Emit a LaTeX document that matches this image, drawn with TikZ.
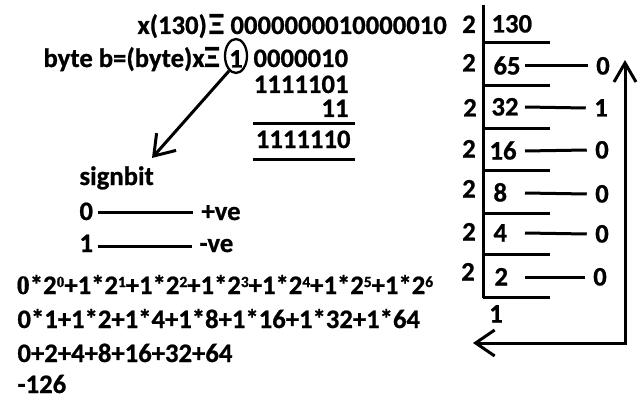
\documentclass[tikz,border=0pt]{standalone}
\usepackage{fontspec}
\setmainfont{Carlito}[BoldFeatures={FakeBold=0.8}]
\newfontfamily\serifz{Liberation Serif}[BoldFeatures={FakeBold=0.5}]
\usetikzlibrary{arrows.meta,shapes.geometric}
\newcommand{\supx}[1]{\raisebox{7pt}{\fontsize{15.5}{15}\selectfont #1}}
\newcommand{\xii}{\scalebox{1.15}{Ξ}}
\begin{document}
\begin{tikzpicture}[x=1pt,y=-1pt,line width=3pt,
  lbl/.style={inner sep=0pt,text height=17pt,text depth=0pt,font=\fontsize{26.67}{30}\selectfont\bfseries},
  lw/.style={lbl,anchor=base west},
  le/.style={lbl,anchor=base east},
  barb/.style={-{Straight Barb[length=19pt,width=26pt,line width=3pt]}},
  barbs/.style={{Straight Barb[length=19pt,width=26pt,line width=3pt]}-{Straight Barb[length=19pt,width=22pt,line width=3pt]}}]
\useasboundingbox (0,0) rectangle (642,401);
% top left binary
\node[lw] (xl) at (136,34) {x(130)\hspace{2pt}\xii};
\node[lw] (xb) at (229,34) {0000000010000010};
\node[lw] (bl) at (42,67) {byte b=(byte)x\xii};
\node[lbl] (one) at (236,59) {1};
\node[draw,ellipse,minimum width=22pt,minimum height=34pt,inner sep=0pt,line width=2.3pt] (circ) at (236,56) {};
\node[lw] (bb) at (252,67) {0000010};
\node[le] (inv) at (350,93) {1111101};
\node[le] (add) at (350,117) {11};
\draw (253,124) -- (355,124);
\node[le] (res) at (352,148) {1111110};
\draw (253,159) -- (355,159);
\coordinate (tip) at (152,158);
\draw[barb] (circ.245) -- (tip);
% signbit
\node[lw] (sb) at (78,185) {signbit};
\node[lw] (s0) at (78,220) {0};
\node[lw] (pve) at (200,220) {+ve};
\node[lw] (s1) at (78,252) {1};
\node[lw] (nve) at (198,252) {-ve};
\draw ([xshift=3pt,yshift=-1pt]s0.east) -- ([xshift=-7pt,yshift=-1pt]pve.west);
\draw ([xshift=3pt,yshift=-3pt]s1.east) -- ([xshift=-6pt,yshift=-3pt]nve.west);
% expressions
\node[lw] (e1) at (15,294) {{\serifz 0}*2\supx{\serifz 0}+1*2\supx{1}+1*2\supx{2}+1*2\supx{3}+1*2\supx{4}+1*2\supx{5}+1*2\supx{6}};
\node[lw] (e2) at (16,328) {0*1+1*2+1*4+1*8+1*16+1*32+1*64};
\node[lw] (e3) at (16,362) {0+2+4+8+16+32+64};
\node[lw] (e4) at (16,393) {-126};
% division table
\draw (483,5) -- (483,298);
\foreach \yy in {43,86,129,170,213,254,297} \draw (483,\yy) -- (550,\yy);
\node[lbl] (d1) at (469,24.5) {2};
\node[lbl] (d2) at (469,63) {2};
\node[lbl] (d3) at (470,108) {2};
\node[lbl] (d4) at (469,149) {2};
\node[lbl] (d5) at (469,189) {2};
\node[lbl] (d6) at (469,232) {2};
\node[lbl] (d7) at (468,272) {2};
\node[lbl,anchor=west] (n130) at (490,24) {130};
\node[lbl,anchor=west] (n65) at (492,66) {65};
\node[lbl,anchor=west] (n32) at (490,107) {32};
\node[lbl,anchor=west] (n16) at (488,151) {16};
\node[lbl,anchor=west] (n8) at (492,193) {8};
\node[lbl,anchor=west] (n4) at (492,233) {4};
\node[lbl,anchor=west] (n2) at (493,277) {2};
\node[lbl] (nb) at (496,314) {1};
\node[lbl] (r65) at (603,66) {0};
\node[lbl] (r32) at (601,108) {1};
\node[lbl] (r16) at (602,150) {0};
\node[lbl] (r8) at (602,194) {0};
\node[lbl] (r4) at (602,234) {0};
\node[lbl] (r2) at (600,277) {0};
\coordinate (lx) at (525,0);
\foreach \n/\r in {n65/r65,n32/r32,n16/r16,n8/r8,n4/r4,n2/r2}
  \draw (\n -| lx) -- ([xshift=-7pt]\r.west);
% return arrow
\coordinate (a1) at (473,343);
\coordinate (a2) at (625,343);
\coordinate (a3) at (625,60);
\draw[barbs] (a1) -- (a2) -- (a3);
\end{tikzpicture}
\end{document}
